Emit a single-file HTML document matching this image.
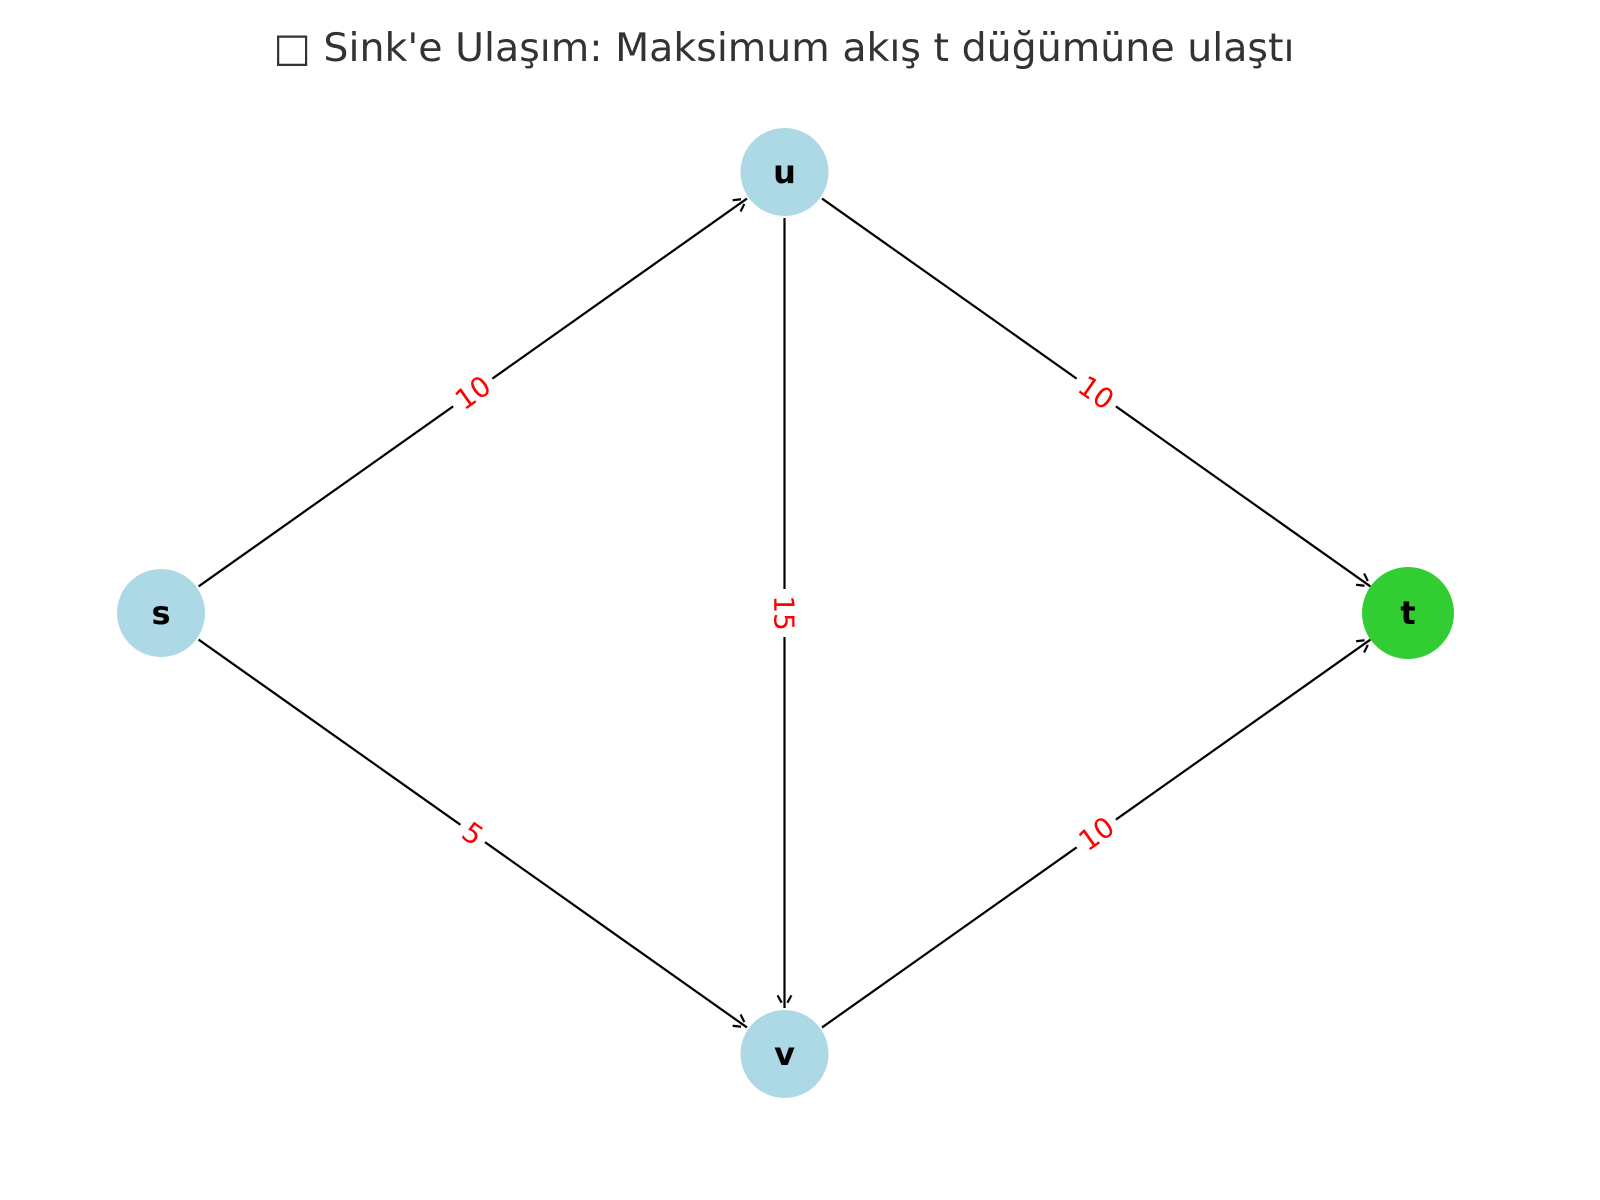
<!DOCTYPE html>
<html><head><meta charset="utf-8"><style>
html,body{margin:0;padding:0;background:#fff;}
svg{display:block;}
text{font-family:"DejaVu Sans","Liberation Sans",sans-serif;}
</style></head><body>
<svg id="chart" width="1600" height="1200" viewBox="0 0 1600 1200">
<text x="784" y="61" text-anchor="middle" font-size="39.5" fill="#333">□ Sink'e Ulaşım: Maksimum akış t düğümüne ulaştı</text>
<g id="edges"></g><g id="labels"></g><g id="nodes"></g>
</svg>
<script>
const nodeNames=['s','u','v','t'];
const nodeX=[0,0.5,0.5,1];
const nodeY=[0.5,0,1,0.5];
const nodeColors=['#add8e6','#add8e6','#add8e6','#32cd32'];
const edgeFrom=['s','s','u','u','v'];
const edgeTo=['u','v','v','t','t'];
const edgeCap=[10,5,15,10,10];
const sx=v=>161+v*(1408-161);
const sy=v=>172+v*(1054-172);
const NS='http://www.w3.org/2000/svg';
const mk=(t,a,p)=>{const e=document.createElementNS(NS,t);for(const k in a)e.setAttribute(k,a[k]);p.appendChild(e);return e;};
const gE=document.getElementById('edges'),gL=document.getElementById('labels'),gN=document.getElementById('nodes');
const pos=n=>{const i=nodeNames.indexOf(n);return [sx(nodeX[i]),sy(nodeY[i])];};
edgeFrom.forEach((f,i)=>{
  const [x1,y1]=pos(f),[x2,y2]=pos(edgeTo[i]);
  const dx=x2-x1,dy=y2-y1,L=Math.hypot(dx,dy),ux=dx/L,uy=dy/L;
  const r=46;
  const ax=x1+ux*r,ay=y1+uy*r,bx=x2-ux*r,by=y2-uy*r;
  const ln=mk('line',{x1:ax,y1:ay,x2:bx,y2:by,stroke:'#000','stroke-width':2.2},gE);
  
  
  [0.5,-0.5].forEach(a=>{
    const c=Math.cos(a),s=Math.sin(a);
    const hx=-(ux*c-uy*s)*12,hy=-(ux*s+uy*c)*12;
    const h=mk('line',{x1:bx+hx*0.5,y1:by+hy*0.5,x2:bx+hx*1.2,y2:by+hy*1.2,stroke:'#000','stroke-width':2.2},gE);
    
    
  });
  const mx=(x1+x2)/2,my=(y1+y2)/2;
  let ang=Math.atan2(dy,dx)*180/Math.PI;
  if(ang>90.1)ang-=180; if(ang<-90.1)ang+=180;
  const g=mk('g',{transform:`translate(${mx},${my}) rotate(${ang})`},gL);
  
  
  const txt=String(edgeCap[i]);
  const w=txt.length*18+12;
  mk('rect',{x:-w/2,y:-17,width:w,height:34,fill:'#fff'},g);
  const t=mk('text',{x:0,y:10,'text-anchor':'middle','font-size':28,fill:'#ff0000'},g);
  t.textContent=txt;
});
nodeNames.forEach((n,i)=>{
  const g=mk('g',{},gN);
  
  
  mk('circle',{cx:sx(nodeX[i]),cy:sy(nodeY[i]),r:n==='t'?46:44,fill:nodeColors[i]},g);
  const t=mk('text',{x:sx(nodeX[i]),y:sy(nodeY[i])+11,'text-anchor':'middle','font-size':32,'font-weight':'bold',fill:'#000'},g);
  t.textContent=n;
});
</script>
</body></html>
